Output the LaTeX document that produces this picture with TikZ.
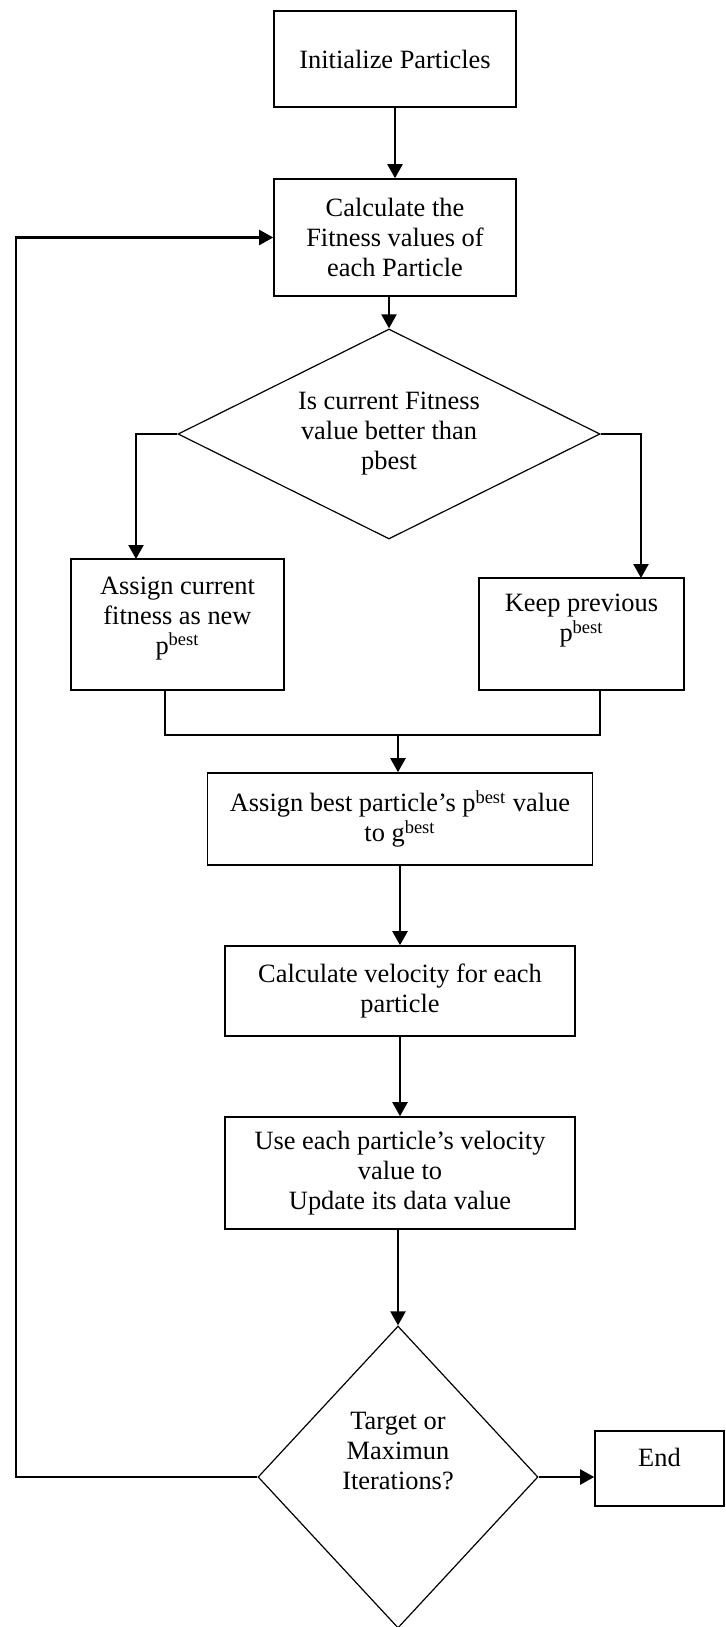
\documentclass[tikz,border=0pt]{standalone}
\usepackage{fontspec}
\setmainfont{Liberation Serif}
\usetikzlibrary{shapes.geometric,arrows.meta}

\begin{document}
\begin{tikzpicture}[x=0.5pt, y=-0.5pt,
    stepbox/.style={draw, line width=0.8pt, inner sep=0pt},
    testbox/.style={draw, diamond, line width=0.6pt, inner sep=0pt},
    txt/.style={align=center, inner sep=0pt, font=\fontsize{13.2}{15}\selectfont},
    flow/.style={line width=1.1pt, -{Triangle[length=7pt, width=7.5pt]}},
    link/.style={line width=0.9pt}]
    \useasboundingbox (0,0) rectangle (726,1627);
    % The boxes and the two tests.
        \node[stepbox, minimum width=121pt, minimum height=48pt] (init) at (395,59) {};
        \node[stepbox, minimum width=121pt, minimum height=58.5pt] (fit) at (395,237.5) {};
        \node[testbox, minimum width=211pt, minimum height=105pt] (better) at (389,434) {};
        \node[stepbox, minimum width=106.5pt, minimum height=65.5pt] (assign) at (177.5,624.5) {};
        \node[stepbox, minimum width=102.5pt, minimum height=56pt] (keep) at (581.5,634) {};
        \node[stepbox, minimum width=192.5pt, minimum height=46pt] (gbest) at (400,819) {};
        \node[stepbox, minimum width=175pt, minimum height=45pt] (vel) at (400,991) {};
        \node[stepbox, minimum width=175pt, minimum height=56pt] (upd) at (400,1173) {};
        \node[testbox, minimum width=140pt, minimum height=151pt] (stop) at (398,1477) {};
        \node[stepbox, minimum width=64.5pt, minimum height=37.5pt] (end) at (659.5,1468.5) {};
    % Below nodes are the labels.
        \node[txt] (initlbl) at (init) {Initialize Particles};
        \node[txt] (fitlbl) at (fit) {Calculate the\\Fitness values of\\each Particle};
        \node[txt] (betterlbl) at (better) {Is current Fitness\\value better than\\pbest};
        \node[txt] (assignlbl) at ([yshift=3pt]assign.center) {Assign current\\fitness as new\\p\textsuperscript{best}};
        \node[txt] (keeplbl) at ([yshift=6.5pt]keep.center) {Keep previous\\p\textsuperscript{best}};
        \node[txt] (gbestlbl) at (gbest) {Assign best particle’s p\textsuperscript{best} value\\to g\textsuperscript{best}};
        \node[txt] (vellbl) at (vel) {Calculate velocity for each\\particle};
        \node[txt] (updlbl) at (upd) {Use each particle’s velocity\\value to\\Update its data value};
        \node[txt] (stoplbl) at ([yshift=13pt]stop.center) {Target or\\Maximun\\Iterations?};
        \node[txt] (endlbl) at ([yshift=5.5pt]end.center) {End};
    % Points where the lines bend or meet.
        \coordinate (ain) at (136,559);
        \coordinate (kin) at (641,578);
        \coordinate (aout) at (165,690);
        \coordinate (kout) at (600,690);
        \coordinate (join) at (398,735);
        \coordinate (back) at (16,1477);
    % The arrows.
        \draw[flow] (init.south) -- (fit.north);
        \draw[flow] (fit.south -| better.north) -- (better.north);
        \draw[flow] (better.west) -| (ain);
        \draw[flow] (better.east) -| (kin);
        \draw[link] (aout) |- (join) -| (kout);
        \draw[flow] (join) -- (join |- gbest.north);
        \draw[flow] (gbest.south) -- (vel.north);
        \draw[flow] (vel.south) -- (upd.north);
        \draw[flow] (upd.south -| stop.north) -- (stop.north);
        \draw[flow] (stop.east) -- (stop.east -| end.west);
    % This draws the way back to the fitness step.
        \draw[flow] (stop.west) -- (back) |- (fit.west);
\end{tikzpicture}
\end{document}
